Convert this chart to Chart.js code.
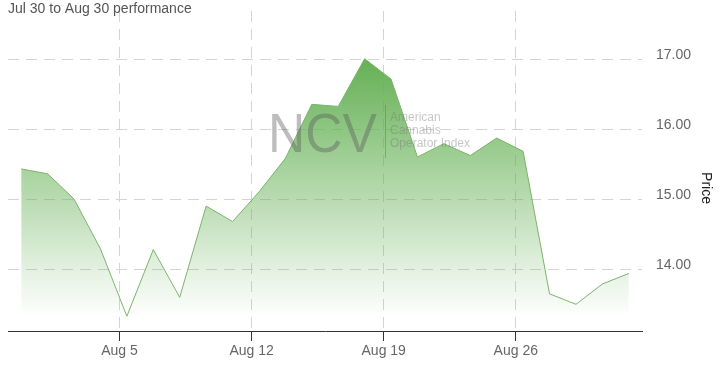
<!DOCTYPE html>
<html>
<head>
<meta charset="utf-8">
<script src="https://cdn.jsdelivr.net/npm/chart.js@4"></script>
<style>
  body { margin: 0; background: #fff; }
  #wrap { width: 722px; height: 365px; }
</style>
</head>
<body>
<div id="wrap"><canvas id="priceChart" width="722" height="365"></canvas></div>
<script>
// trading days and closing prices
const tradeDates = ['2018-07-31', '2018-08-01', '2018-08-02', '2018-08-03',
  '2018-08-06', '2018-08-07', '2018-08-08', '2018-08-09', '2018-08-10',
  '2018-08-13', '2018-08-14', '2018-08-15', '2018-08-16', '2018-08-17',
  '2018-08-20', '2018-08-21', '2018-08-22', '2018-08-23', '2018-08-24',
  '2018-08-27', '2018-08-28', '2018-08-29', '2018-08-30', '2018-08-31'];
const prices = [15.44, 15.37, 15.01, 14.30, 13.34, 14.29, 13.61, 14.91, 14.69,
  15.11, 15.59, 16.36, 16.33, 17.01, 16.72, 15.61, 15.80, 15.63, 15.88, 15.69,
  13.66, 13.51, 13.80, 13.95];

// axis ticks
const xTickDates = ['2018-08-05', '2018-08-12', '2018-08-19', '2018-08-26'];
const xTickLabels = ['Aug 5', 'Aug 12', 'Aug 19', 'Aug 26'];
const yTicks = [14, 15, 16, 17];

const FONT = "'Liberation Sans', Arial, sans-serif";

// ordinal axis: weekends take no space, so a date sits between its neighbouring trading days
const tradeTimes = tradeDates.map(d => Date.parse(d));
function ordinalPos(t) {
  for (let i = 0; i < tradeTimes.length - 1; i++) {
    if (t >= tradeTimes[i] && t <= tradeTimes[i + 1]) {
      return i + (t - tradeTimes[i]) / (tradeTimes[i + 1] - tradeTimes[i]);
    }
  }
  return 0;
}
// ticks fall on local midnight (UTC-4)
const xTickPos = xTickDates.map(d => ordinalPos(Date.parse(d) + 4 * 3600 * 1000));

// area fill: green at the highest price fading out at the lowest
function areaFill(context) {
  const chart = context.chart;
  const {ctx, chartArea, scales} = chart;
  if (!chartArea) return null;
  const top = scales.y.getPixelForValue(Math.max(...prices));
  const bottom = scales.y.getPixelForValue(Math.min(...prices));
  const g = ctx.createLinearGradient(0, top, 0, bottom);
  g.addColorStop(0, 'rgba(100,176,84,1)');
  g.addColorStop(1, 'rgba(100,176,84,0)');
  return g;
}

// title, NCV watermark and the rotated axis title
const decorations = {
  id: 'decorations',
  afterDatasetsDraw(chart) {
    const {ctx, chartArea} = chart;
    const x = chartArea.left + 260;
    const y = chartArea.top + 141;
    ctx.save();
    ctx.fillStyle = 'rgba(90,90,90,0.4)';
    ctx.font = '56px ' + FONT;
    ctx.textBaseline = 'alphabetic';
    const w = ctx.measureText('NCV').width;
    ctx.translate(x, y);
    ctx.scale(109 / w, 1);
    ctx.fillText('NCV', 0, 0);
    ctx.restore();

    ctx.save();
    ctx.strokeStyle = 'rgba(90,90,90,0.35)';
    ctx.lineWidth = 1;
    ctx.beginPath();
    ctx.moveTo(chartArea.left + 377.5, chartArea.top + 94);
    ctx.lineTo(chartArea.left + 377.5, chartArea.top + 147);
    ctx.stroke();
    ctx.fillStyle = 'rgba(120,120,120,0.42)';
    ctx.font = '12px ' + FONT;
    ['American', 'Cannabis', 'Operator Index'].forEach((t, i) => {
      ctx.fillText(t, chartArea.left + 382, chartArea.top + 110 + i * 13);
    });
    ctx.restore();
  },
  afterDraw(chart) {
    const {ctx} = chart;
    ctx.save();
    ctx.fillStyle = '#555';
    ctx.font = '14px ' + FONT;
    ctx.textBaseline = 'alphabetic';
    ctx.fillText('Jul 30 to Aug 30 performance', 8, 12.5);

    ctx.translate(706, 188);
    ctx.rotate(Math.PI / 2);
    ctx.fillStyle = '#222';
    ctx.textAlign = 'center';
    ctx.textBaseline = 'middle';
    ctx.fillText('Price', 0, 0);
    ctx.restore();
  }
};

function priceChart() {
  const ctx = document.getElementById('priceChart');
  const myChart = new Chart(ctx, {
    type: 'line',
    data: {
      datasets: [
        {
          data: prices.map((p, i) => ({x: i, y: p})),
          borderColor: '#7bb46a',
          borderWidth: 1,
          backgroundColor: areaFill,
          fill: 'start',
          pointRadius: 0,
          tension: 0,
        },
      ],
    },
    options: {
      responsive: false,
      animation: false,
      devicePixelRatio: 1,
      layout: {
        padding: {left: 8, top: 11, right: 0, bottom: 0},
      },
      plugins: {
        legend: {display: false},
        tooltip: {enabled: false},
        title: {display: false},
      },
      scales: {
        x: {
          type: 'linear',
          min: -0.5,
          max: tradeDates.length - 0.5,
          afterBuildTicks: (scale) => {
            scale.ticks = xTickPos.map(v => ({value: v}));
          },
          afterFit: (scale) => {
            scale.height = 34;
            scale.paddingLeft = 0;
            scale.paddingRight = 0;
          },
          ticks: {
            autoSkip: false,
            maxRotation: 0,
            padding: 2,
            color: '#666',
            font: {family: FONT, size: 14},
            callback: (value, index) => xTickLabels[index],
          },
          grid: {
            color: '#d4d4d4',
            tickColor: '#333',
            tickLength: 10,
            tickBorderDash: [],
          },
          border: {
            display: true,
            color: '#333',
            dash: [11, 7],
          },
        },
        y: {
          position: 'right',
          min: 13.13,
          max: 17.69,
          afterBuildTicks: (scale) => {
            scale.ticks = yTicks.map(v => ({value: v}));
          },
          afterFit: (scale) => {
            scale.width = 80;
            scale.paddingTop = 0;
            scale.paddingBottom = 0;
          },
          ticks: {
            padding: 14,
            labelOffset: -4.5,
            color: '#666',
            font: {family: FONT, size: 14},
            callback: (value) => value.toFixed(2),
          },
          grid: {
            color: '#d4d4d4',
            drawTicks: false,
          },
          border: {
            display: false,
            dash: [11, 7],
          },
        },
      },
    },
    plugins: [decorations],
  });
}

priceChart();
</script>
</body>
</html>
